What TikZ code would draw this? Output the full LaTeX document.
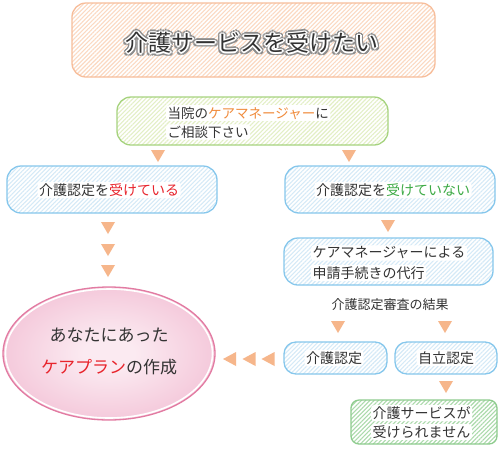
\documentclass[tikz,border=0pt]{standalone}
\usepackage{fontspec}
\setmainfont{Noto Sans CJK JP}
\usetikzlibrary{patterns.meta,calc,shapes.geometric}
\definecolor{orangeB}{HTML}{F7BD9A}
\definecolor{orangeH}{HTML}{FBD9C2}
\definecolor{greenB}{HTML}{A6D37E}
\definecolor{greenH}{HTML}{E3EFC6}
\definecolor{blueB}{HTML}{86C7EC}
\definecolor{blueH}{HTML}{D5EAF7}
\definecolor{greenTwoB}{HTML}{8ECC8E}
\definecolor{greenTwoH}{HTML}{ABDAAB}
\definecolor{arrowc}{HTML}{F6B68B}
\definecolor{txt}{HTML}{333333}
\definecolor{txtOrange}{HTML}{F08A3A}
\definecolor{txtRed}{HTML}{E8242C}
\definecolor{txtGreen}{HTML}{3DAA45}
\definecolor{pinkB}{HTML}{E27BA2}
\definecolor{pinkC}{HTML}{FBEAF1}
\definecolor{pinkO}{HTML}{EC9EBE}
\pgfdeclareradialshading{pinkrad}{\pgfpoint{0bp}{0bp}}{color(0bp)=(pinkC); color(6bp)=(pinkC); color(50bp)=(pinkO)}
\tikzset{
  hbox/.style={rounded corners=14pt, line width=1.3pt, inner sep=0pt},
  orangebox/.style={hbox, draw=orangeB, pattern={Lines[angle=45,distance=3pt,line width=1.1pt]}, pattern color=orangeH},
  greenbox/.style={hbox, draw=greenB, pattern={Lines[angle=45,distance=3pt,line width=1.1pt]}, pattern color=greenH},
  bluebox/.style={hbox, draw=blueB, pattern={Lines[angle=45,distance=3pt,line width=1.1pt]}, pattern color=blueH},
  greentwobox/.style={hbox, rounded corners=8pt, draw=greenTwoB, pattern={Lines[angle=45,distance=3pt,line width=1.1pt]}, pattern color=greenTwoH},
  lbl/.style={text=txt, font=\fontsize{14}{20}\selectfont, fill=white, inner sep=1.5pt, rounded corners=3pt},
  downtri/.pic={\fill[arrowc] (-7,-6) -- (7,-6) -- (0,6) -- cycle;},
  lefttri/.pic={\fill[arrowc] (6,-7) -- (6,7) -- (-7,0) -- cycle;},
  titlefont/.style={font=\fontsize{23}{23}\selectfont}
}
\begin{document}
\begin{tikzpicture}[x=1pt,y=-1pt]
\useasboundingbox[fill=white] (0,0) rectangle (500,448);

% boxes
\node[orangebox, minimum width=363pt, minimum height=74pt] (top) at (253.5,40) {};
\node[greenbox, minimum width=271pt, minimum height=48pt] (consult) at (252.5,121) {};
\node[bluebox, minimum width=210pt, minimum height=47pt] (yes) at (112,189.5) {};
\node[bluebox, minimum width=210pt, minimum height=47pt] (no) at (390,189.5) {};
\node[bluebox, minimum width=209pt, minimum height=47pt] (apply) at (388.5,261.5) {};
\node[bluebox, rounded corners=12pt, minimum width=103pt, minimum height=32pt] (cert) at (335.5,358) {};
\node[bluebox, rounded corners=12pt, minimum width=102pt, minimum height=32pt] (indep) at (446,358) {};
\node[greentwobox, minimum width=146pt, minimum height=44pt] (nosvc) at (424,422) {};

% ellipse
\node[ellipse, shading=pinkrad, draw=pinkB, line width=1.3pt, minimum width=212pt, minimum height=133pt, inner sep=0pt] (plan) at (109,353.5) {};
\draw[white, line width=1.6pt] (plan.center) ellipse (103.5 and 64.5);

% title with outline
\coordinate (tc) at (252,43);
\foreach \a in {0,30,...,330}{
  \node[titlefont, text=black!45] at ($(tc)+(\a:3.1)$) {介護サービスを受けたい};
}
\foreach \a in {0,45,...,315}{
  \node[titlefont, text=white] at ($(tc)+(\a:1.7)$) {介護サービスを受けたい};
}
\node[titlefont, text=txt] (title) at (tc) {介護サービスを受けたい};

% labels
\node[lbl, anchor=west, font=\fontsize{13.5}{19}\selectfont] (consultA) at (166,113) {当院の\textcolor{txtOrange}{ケアマネージャー}に};
\node[lbl, anchor=west, font=\fontsize{13.5}{19}\selectfont] (consultB) at (166,132) {ご相談下さい};
\node[lbl] (yesT) at (109,190) {介護認定を\textcolor{txtRed}{受けている}};
\node[lbl] (noT) at (393,190) {介護認定を\textcolor{txtGreen}{受けていない}};
\node[lbl, anchor=west] (applyA) at (311,253) {ケアマネージャーによる};
\node[lbl, anchor=west] (applyB) at (311,273) {申請手続きの代行};
\node[lbl, font=\fontsize{13}{18}\selectfont] (result) at (390,305) {介護認定審査の結果};
\node[lbl] (certT) at (334,358) {介護認定};
\node[lbl] (indepT) at (446,358) {自立認定};
\node[lbl, anchor=west] (nosvcA) at (371,413) {介護サービスが};
\node[lbl, anchor=west] (nosvcB) at (371,432) {受けられません};
\node[text=txt, font=\fontsize{17}{32}\selectfont, align=center] (planT) at (109,351) {あなたにあった\\\textcolor{txtRed}{ケアプラン}の作成};

% arrows
\pic at (158,156) {downtri};
\pic at (349,156) {downtri};
\pic at (108,228) {downtri};
\pic at (108,250) {downtri};
\pic at (108,271) {downtri};
\pic at (388,226) {downtri};
\pic at (338,327) {downtri};
\pic at (445,327) {downtri};
\pic at (446,387) {downtri};
\pic at (230,359) {lefttri};
\pic at (249.5,359) {lefttri};
\pic at (268.5,359) {lefttri};
\end{tikzpicture}
\end{document}
